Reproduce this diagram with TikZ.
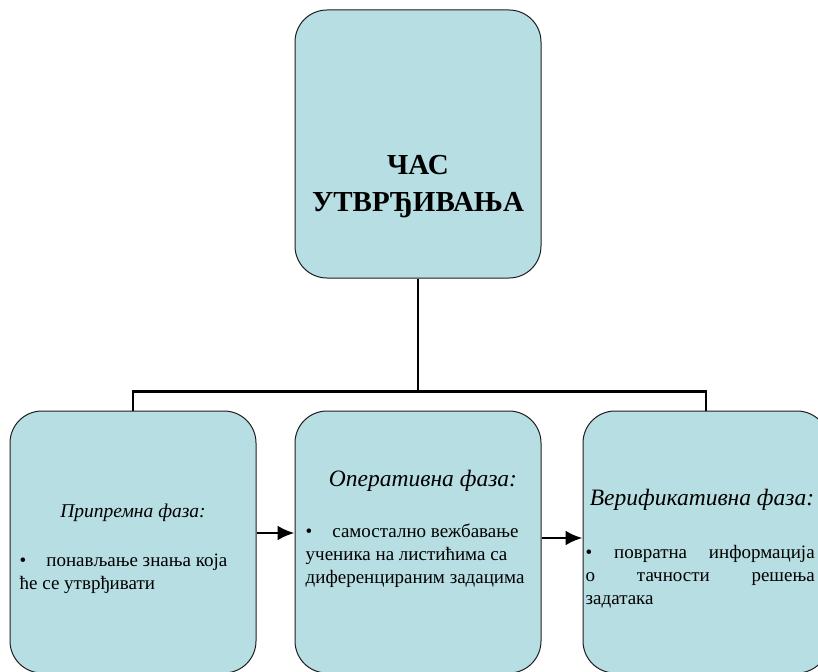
\documentclass[tikz,border=0pt]{standalone}
\usepackage{fontspec}
\setmainfont{Liberation Serif}
\usepackage{xcolor}
\usetikzlibrary{positioning,arrows.meta}
\definecolor{paleteal}{RGB}{183,222,226}
\definecolor{darkline}{RGB}{30,30,30}

\begin{document}
\begin{tikzpicture}[x=1pt,y=1pt,
  phase/.style={rectangle, draw=darkline, line width=1pt, fill=paleteal, rounded corners=32pt, minimum width=246pt, minimum height=262pt, inner sep=0pt},
  head/.style={font=\fontsize{23.5}{27}\selectfont\itshape, inner sep=0pt, anchor=base},
  bullet/.style={font=\fontsize{19}{23}\selectfont, inner sep=0pt, anchor=north west, align=left},
  conn/.style={line width=2.8pt},
  arr/.style={line width=2.8pt, -{Latex[length=17pt,width=15pt]}}]
  \useasboundingbox (0,0) rectangle (818,-671);
  \clip (0,0) rectangle (818,-671);
  \fill[white] (0,0) rectangle (818,-671);
  % top box
  \node[phase, minimum height=268pt] (topic) at (418,-144) {};
  \node[font=\bfseries\fontsize{29}{37}\selectfont, align=center, inner sep=0pt, anchor=north] (title) at ([yshift=-146pt]topic.north) {ЧАС\\УТВРЂИВАЊА};
  % three phases
  \node[phase, below=132pt of topic] (oper) {};
  \node[phase, left=38pt of oper] (prep) {};
  \node[phase, right=41pt of oper] (verif) {};
  % tree lines
  \coordinate[below=113pt of topic.south] (hub);
  \draw[conn] (topic.south) -- (hub);
  \draw[conn] (prep.north) -- (prep.north |- hub) -- (verif.north |- hub) -- (verif.north);
  \draw[arr] ([yshift=9pt]prep.east) -- ([yshift=9pt]oper.west);
  \draw[arr] ([yshift=4pt]oper.east) -- ([yshift=4pt]verif.west);
  % texts
  \node[head, font=\fontsize{19.5}{24}\selectfont\itshape] (prephead) at ([yshift=-107pt]prep.north) {Припремна фаза:};
  \node[head] (operhead) at ([xshift=5pt,yshift=-76pt]oper.north) {Оперативна фаза:};
  \node[head] (verifhead) at ([xshift=-4pt,yshift=-95pt]verif.north) {Верификативна фаза:};
  \node[bullet] (preptext) at ([xshift=10pt,yshift=-143pt]prep.north west) {\textbullet\hspace{20pt}понављање знања која\\ће се утврђивати};
  \node[bullet] (opertext) at ([xshift=11pt,yshift=-113pt]oper.north west) {\textbullet\hspace{20pt}самостално вежбавање\\ученика на листићима са\\диференцираним задацима};
  \node[bullet, text width=229pt, align=justify] (veriftext) at ([xshift=3pt,yshift=-135pt]verif.north west) {\textbullet\ повратна информација\linebreak о тачности решења\linebreak задатака};
\end{tikzpicture}
\end{document}
